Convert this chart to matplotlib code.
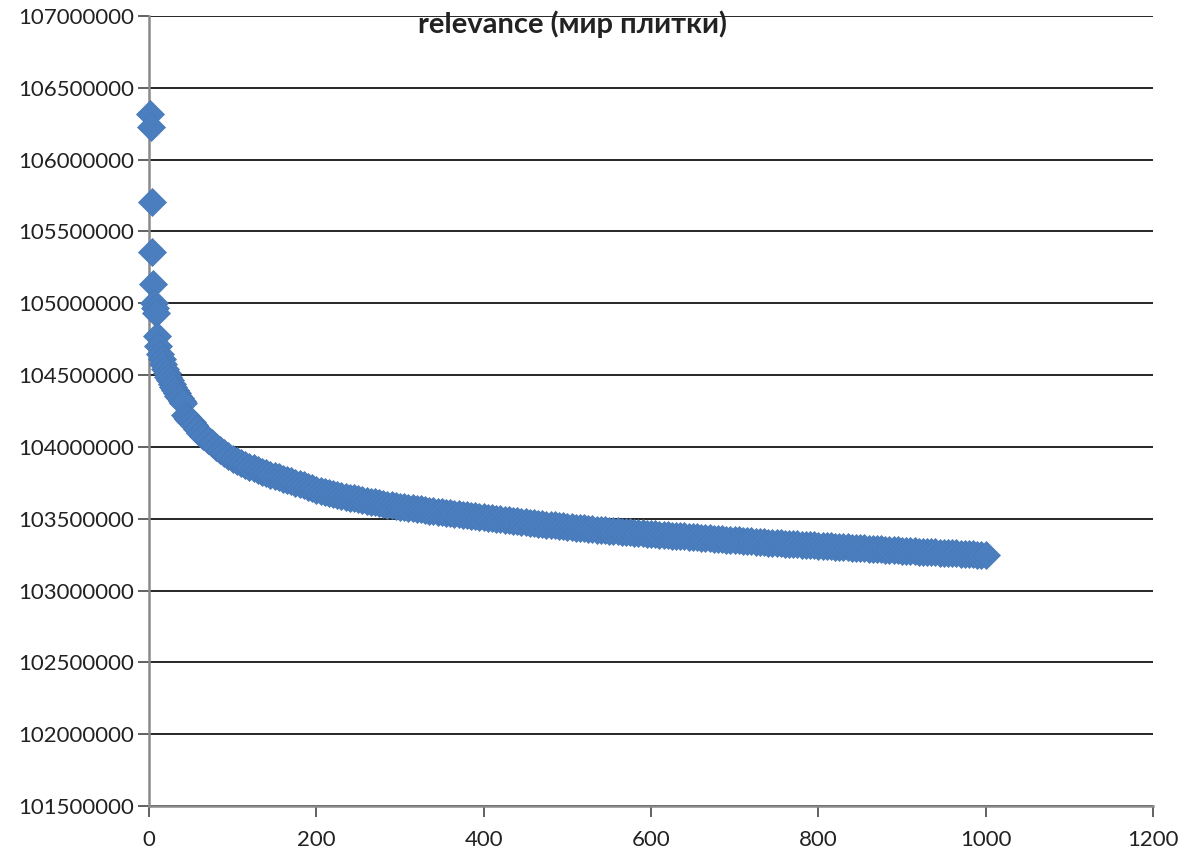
import numpy as np
import matplotlib.pyplot as plt
from matplotlib.ticker import FuncFormatter

## данные (relevance по позиции)
pos_head = [1, 2, 3, 4, 5, 6, 7, 8, 9, 11, 13, 15, 17, 19, 21, 23, 25, 27, 29,
            31, 33, 35, 37, 39, 41, 43, 45, 47, 49, 51, 54, 57, 61, 65, 70, 75,
            80, 85, 90, 95]
pos_tail = list(range(100, 1001, 5))
pos = pos_head + pos_tail

relevance = [106320000, 106225000, 105705000, 105360000, 105135000, 105005000,
             104965000, 104935000, 104770000, 104700000, 104650000, 104610000,
             104575000, 104545000, 104515000, 104490000, 104465000, 104440000,
             104415000, 104395000, 104375000, 104357000, 104340000, 104322000,
             104305000, 104222000, 104208000, 104195000, 104182000, 104170000,
             104150000, 104128000, 104097000, 104075000, 104048000, 104024000,
             104002000, 103980000, 103958000, 103936000,
             # 100 .. 1000, шаг 5
             103915000, 103901000, 103887000, 103874000, 103862000, 103850000,
             103839000, 103828000, 103817000, 103807000, 103797000, 103788000,
             103779000, 103770000, 103761000, 103751000, 103742000, 103732000,
             103722000, 103711000, 103700000, 103693000, 103686000, 103679000,
             103672000, 103665000, 103659000, 103653000, 103647000, 103641000,
             103635000, 103629000, 103624000, 103618000, 103613000, 103608000,
             103603000, 103598000, 103594000, 103589000, 103585000, 103581000,
             103577000, 103573000, 103569000, 103565000, 103561000, 103557000,
             103554000, 103550000, 103547000, 103543000, 103540000, 103536000,
             103532000, 103528000, 103525000, 103521000, 103518000, 103514000,
             103511000, 103507000, 103504000, 103500000, 103497000, 103493000,
             103490000, 103486000, 103483000, 103479000, 103476000, 103472000,
             103469000, 103465000, 103462000, 103459000, 103456000, 103453000,
             103450000, 103447000, 103444000, 103441000, 103438000, 103435000,
             103433000, 103430000, 103428000, 103425000, 103423000, 103420000,
             103418000, 103415000, 103413000, 103410000, 103408000, 103405000,
             103403000, 103401000, 103399000, 103396000, 103394000, 103392000,
             103390000, 103388000, 103386000, 103383000, 103381000, 103379000,
             103377000, 103374000, 103372000, 103370000, 103368000, 103365000,
             103363000, 103361000, 103359000, 103357000, 103355000, 103353000,
             103351000, 103349000, 103347000, 103344000, 103342000, 103340000,
             103338000, 103336000, 103334000, 103333000, 103331000, 103329000,
             103327000, 103325000, 103323000, 103321000, 103319000, 103318000,
             103316000, 103314000, 103312000, 103310000, 103308000, 103307000,
             103305000, 103303000, 103301000, 103300000, 103298000, 103296000,
             103294000, 103293000, 103291000, 103290000, 103288000, 103286000,
             103284000, 103283000, 103281000, 103280000, 103278000, 103277000,
             103275000, 103273000, 103271000, 103270000, 103268000, 103267000,
             103265000, 103264000, 103262000, 103261000, 103259000, 103258000,
             103256000, 103255000, 103253000, 103252000, 103250000, 103249000,
             103247000]

yticks = np.arange(101500000, 107000001, 500000)
xticks = [0, 200, 400, 600, 800, 1000, 1200]

plt.rcParams['font.family'] = ['Lato', 'DejaVu Sans']

fig = plt.figure(figsize=(11.84, 8.5), dpi=100)
ax = fig.add_axes([149/1184, 44/850, 1004/1184, 790/850])

ax.plot(pos, relevance, 'D', ms=14, mfc='#4a7ebf', mec='#4777b5', mew=0.5,
        ls='none', clip_on=False, zorder=4)

ax.set_xlim(0, 1200)
ax.set_ylim(101500000, 107000000)
ax.set_xticks(xticks)
ax.set_yticks(yticks)
ax.yaxis.set_major_formatter(FuncFormatter(lambda v, p: f"{int(round(v))}"))

ax.yaxis.grid(True, color='#262626', lw=1.4)
ax.set_axisbelow(True)
for s in ['top', 'right']:
    ax.spines[s].set_visible(False)
for s in ['left', 'bottom']:
    ax.spines[s].set_color('#8a8a8a')
    ax.spines[s].set_linewidth(1.8)

ax.tick_params(axis='y', length=8, width=1.3, color='#555555', pad=3,
               labelsize=16, labelcolor='#222222')
ax.tick_params(axis='x', length=8, width=1.3, color='#555555', pad=9,
               labelsize=16, labelcolor='#222222')

fig.text(572/1184, 1 - 33/850, "relevance (мир плитки)", ha='center',
         va='baseline', fontsize=21, fontweight='bold', color='#222222',
         zorder=5)

fig.savefig('out.png', dpi=100)
